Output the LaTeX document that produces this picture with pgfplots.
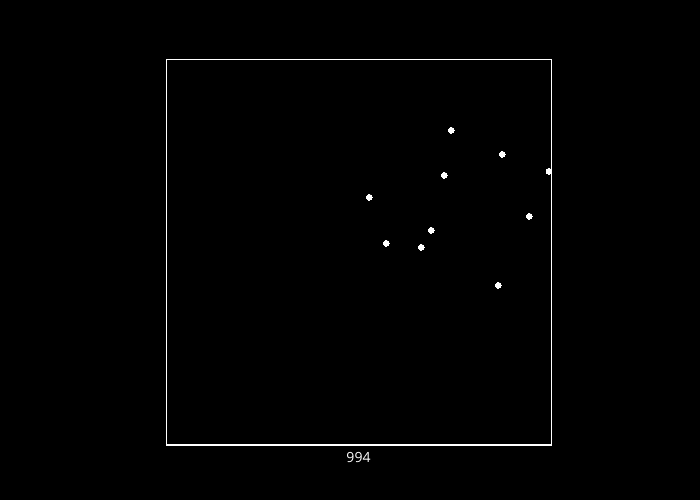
\documentclass[border=0pt]{standalone}
\usepackage{pgfplots}
\pgfplotsset{compat=1.18}
\usepackage{fontspec}
\setmainfont{Open Sans}
\begin{document}
\begin{tikzpicture}
\fill[black] (0,0) rectangle (525pt,375pt);
\useasboundingbox (0,0) rectangle (525pt,375pt);
\begin{axis}[
  at={(124.5pt,41.25pt)}, anchor=south west,
  scale only axis, width=288.75pt, height=288.75pt,
  xmin=0, xmax=385, ymin=0, ymax=385,
  xtick=\empty, ytick=\empty,
  axis line style={white, line width=0.75pt},
  xlabel={994},
  xlabel style={at={(axis description cs:0.5,0)}, anchor=center, yshift=-9pt, text=white, font=\fontsize{10.5pt}{12pt}\selectfont},
  clip=false,
]
\addplot[only marks, mark=*, mark size=2.2pt, mark options={fill=white, draw=white, line width=0pt}] coordinates {
(285.3,314.7)
(336.3,290.7)
(383.0,273.7)
(278.3,269.7)
(203.3,247.7)
(363.3,228.7)
(265.3,214.7)
(220.3,201.7)
(255.3,197.7)
(332.3,159.7)
};
\end{axis}
\end{tikzpicture}
\end{document}
